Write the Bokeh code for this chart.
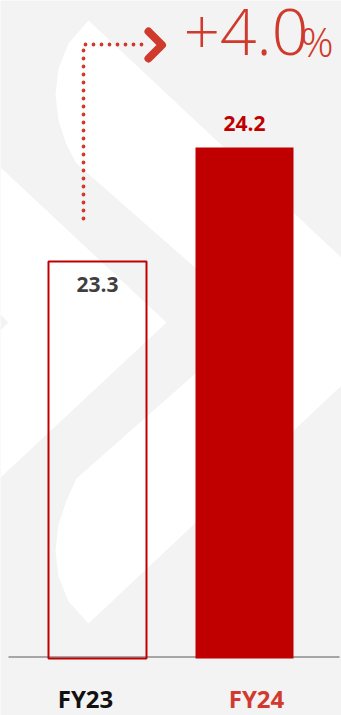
from bokeh.plotting import figure
from bokeh.models import Range1d, ColumnDataSource
from bokeh.core.properties import value
from bokeh.embed import file_html
from bokeh.resources import INLINE

# ---- data ----
categories = ["FY23", "FY24"]
values = [23.3, 24.2]
value_labels = ["23.3", "24.2"]
change_text = "+4.0"
change_unit = "%"

# ---- layout / style constants ----
W, H = 341, 715
PX_PER_X = 147.0      # pixels per category step
PX_PER_Y = 126.67     # pixels per value unit
BASE = 20.166         # value at the chart baseline
BASE_PX = 658         # pixel row of the baseline
X0_PX = 97            # pixel column of category 0

BG = "#f3f3f3"
RED = "#c00000"
ACCENT = "#cf3a2c"


def sx(px):
    return (px - X0_PX) / PX_PER_X


def sy(py):
    return BASE + (BASE_PX - py) / PX_PER_Y


p = figure(width=W, height=H,
           x_range=Range1d(sx(0), sx(W)), y_range=Range1d(sy(H), sy(0)),
           output_backend="svg", toolbar_location=None, min_border=0,
           x_axis_location=None, y_axis_location=None,
           background_fill_color=BG, border_fill_color=BG,
           outline_line_color=None)
p.grid.visible = False

# ---- decorative watermark (white chevron shapes) ----
wm_a = [(88, 20), (409, 321), (88, 623), (68, 601), (58, 576), (55, 550),
        (58, 524), (66, 500), (76, 478), (255, 320), (76, 163), (66, 144),
        (58, 120), (55, 94), (58, 68), (68, 43)]
wm_b = [(0, 167), (166, 322), (0, 477), (0, 330), (8, 322), (0, 314)]
p.patches(xs=[[sx(a) for a, b in wm_a], [sx(a) for a, b in wm_b]],
          ys=[[sy(b) for a, b in wm_a], [sy(b) for a, b in wm_b]],
          fill_color="white", line_color=None)

# ---- baseline ----
p.line(x=[sx(8), sx(339)], y=[sy(656.5), sy(656.5)], line_color="#a6a6a6", line_width=2)

# ---- bars ----
xs = list(range(len(categories)))
src = ColumnDataSource(dict(
    x=xs, top=values, bottom=[BASE] * len(values),
    fill_alpha=[0.0, 1.0], line_alpha=[1.0, 0.0],
))
p.vbar(x="x", top="top", bottom="bottom", width=98 / PX_PER_X, source=src,
       fill_color=RED, fill_alpha="fill_alpha",
       line_color=RED, line_alpha="line_alpha", line_width=2)

# ---- value labels (vertical centre offset from bar top, in px) ----
lab_off_px = [-23, 24]
lab_src = ColumnDataSource(dict(
    x=xs,
    y=[v + o / PX_PER_Y for v, o in zip(values, lab_off_px)],
    text=value_labels,
    color=["#3f3f3f", RED],
))
p.text(x="x", y="y", text="text", source=lab_src, text_color="color",
       text_align="center", text_baseline="middle",
       text_font=value("Open Sans"), text_font_style="bold", text_font_size="21px")

# ---- category labels ----
cat_off_px = [-12, 12]
cat_src = ColumnDataSource(dict(
    x=[i + o / PX_PER_X for i, o in zip(xs, cat_off_px)],
    y=[sy(697.5)] * len(categories),
    text=categories,
    color=["#111111", "#d13b2f"],
))
p.text(x="x", y="y", text="text", source=cat_src, text_color="color",
       text_align="center", text_baseline="middle",
       text_font=value("Open Sans"), text_font_style="bold", text_font_size="24px")

# ---- growth connector ----
p.line(x=[sx(83), sx(83), sx(142)], y=[sy(218), sy(44), sy(44)],
       line_color=ACCENT, line_width=3.8, line_dash="0 8", line_cap="round")
p.line(x=[sx(148), sx(161.5), sx(148)], y=[sy(31), sy(44.5), sy(58)],
       line_color=ACCENT, line_width=8, line_cap="round", line_join="round")

light = value("'Open Sans Light', 'Lato Light', 'Open Sans'")
p.text(x=[sx(183)], y=[sy(31.5)], text=[change_text], text_color=ACCENT,
       text_align="left", text_baseline="middle",
       text_font=light, text_font_size="64px")
p.text(x=[sx(300)], y=[sy(40)], text=[change_unit], text_color=ACCENT,
       text_align="left", text_baseline="middle",
       text_font=light, text_font_size="41px")

open("out.html", "w").write(file_html(p, INLINE))
